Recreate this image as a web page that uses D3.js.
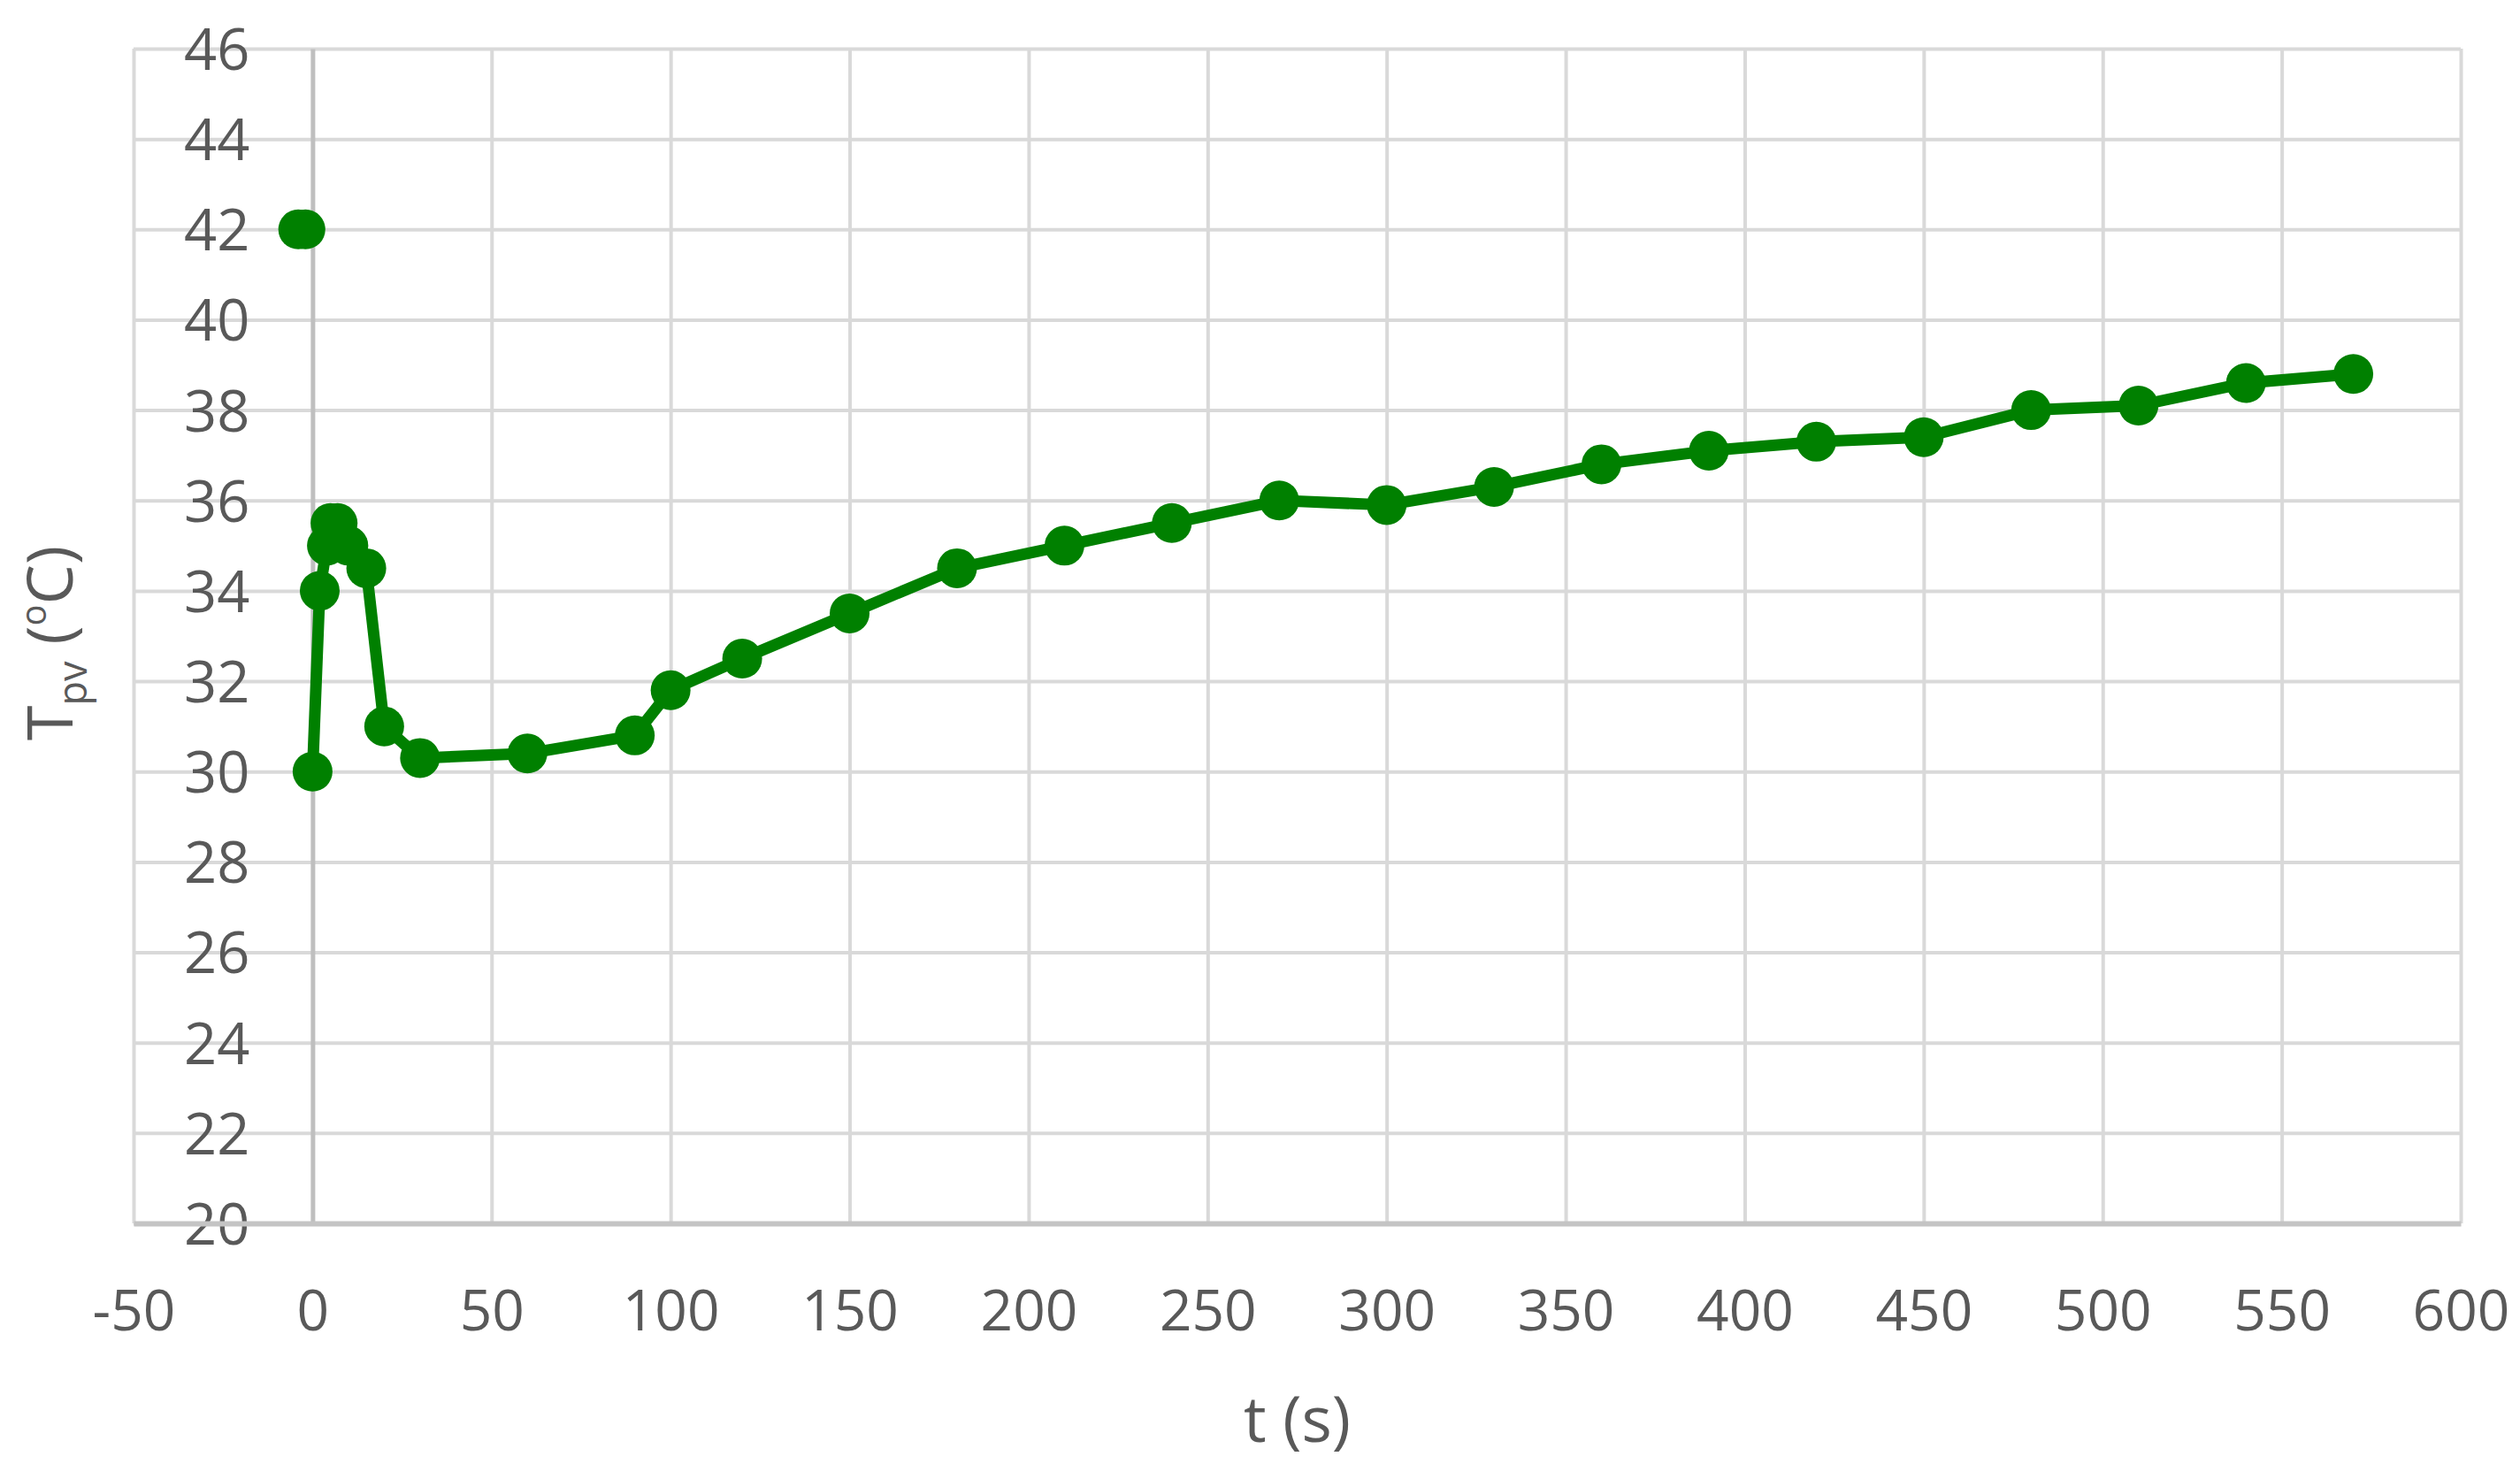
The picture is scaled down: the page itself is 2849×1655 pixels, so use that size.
<!DOCTYPE html>
<html>
<head>
<meta charset="utf-8">
<script src="https://cdn.jsdelivr.net/npm/d3@7"></script>
<style>
  body { margin: 0; background: #fff; }
  text { font-family: "Open Sans", sans-serif; fill: #595959; }
</style>
</head>
<body>
<div id="chart"></div>
<script>
// readings before the switch (separate short run)
var preT = [-4, -2];
var preTemp = [42, 42];

// main run: time (s) and panel temperature (oC)
var timeS = [0, 2, 4, 5, 7, 10, 15, 20, 30, 60, 90, 100, 120, 150, 180, 210, 240,
             270, 300, 330, 360, 390, 420, 450, 480, 510, 540, 570];
var tempC = [30, 34, 35, 35.5, 35.5, 35, 34.5, 31, 30.3, 30.4, 30.8, 31.8, 32.5, 33.5, 34.5, 35, 35.5,
             36, 35.9, 36.3, 36.8, 37.1, 37.3, 37.4, 38, 38.1, 38.6, 38.8];

var xTicks = [-50, 0, 50, 100, 150, 200, 250, 300, 350, 400, 450, 500, 550, 600];
var yTicks = [20, 22, 24, 26, 28, 30, 32, 34, 36, 38, 40, 42, 44, 46];

var width = 2849, height = 1655;
var plot = { left: 151, right: 2782, top: 55, bottom: 1383 };
var green = '#008000';

var svg = d3.select('#chart').append('svg')
              .attr('width', width)
              .attr('height', height);

var x = d3.scaleLinear().domain([-50, 600]).range([plot.left, plot.right]);
var y = d3.scaleLinear().domain([20, 46]).range([plot.bottom, plot.top]);

// plain hyphen for negatives, like the spreadsheet
var plain = function(d) { return String(d); };

// gridlines
svg.append('g')
   .attr('transform', 'translate(0,' + plot.bottom + ')')
   .call(d3.axisBottom(x).tickValues(xTicks).tickSize(-(plot.bottom - plot.top)).tickFormat(''))
   .call(function(g) {
     g.select('.domain').remove();
     g.selectAll('line').attr('stroke', '#d9d9d9').attr('stroke-width', 4);
   });

svg.append('g')
   .attr('transform', 'translate(' + plot.left + ',0)')
   .call(d3.axisLeft(y).tickValues(yTicks).tickSize(-(plot.right - plot.left)).tickFormat(''))
   .call(function(g) {
     g.select('.domain').remove();
     g.selectAll('line').attr('stroke', '#d9d9d9').attr('stroke-width', 4);
   });

// vertical axis crossing at t = 0
svg.append('g')
   .attr('transform', 'translate(' + x(0) + ',0)')
   .call(d3.axisLeft(y).tickValues(yTicks).tickSize(0).tickPadding(71).tickFormat(plain))
   .call(function(g) {
     g.select('.domain').attr('stroke', '#bfbfbf').attr('stroke-width', 5);
     g.selectAll('text')
      .style('font-size', '65px')
      .attr('dy', '0.36em')
      .attr('fill', '#595959');
   });

// horizontal axis
svg.append('g')
   .attr('transform', 'translate(0,' + plot.bottom + ')')
   .call(d3.axisBottom(x).tickValues(xTicks).tickSize(0).tickFormat(plain))
   .call(function(g) {
     g.select('.domain').attr('stroke', '#c4c4c4').attr('stroke-width', 6);
     g.selectAll('text')
      .style('font-size', '64px')
      .attr('y', 121)
      .attr('dy', null)
      .attr('fill', '#595959');
   });

// series
var line = d3.line()
             .x(function(d) { return x(d[0]); })
             .y(function(d) { return y(d[1]); });

var preData = d3.zip(preT, preTemp);
var mainData = d3.zip(timeS, tempC);

[preData, mainData].forEach(function(data) {
  svg.append('path')
     .datum(data)
     .attr('d', line)
     .attr('fill', 'none')
     .attr('stroke', green)
     .attr('stroke-width', 13)
     .attr('stroke-linejoin', 'round');

  svg.append('g').selectAll('circle')
     .data(data).enter()
     .append('circle')
     .attr('cx', function(d) { return x(d[0]); })
     .attr('cy', function(d) { return y(d[1]); })
     .attr('r', 22.5)
     .attr('fill', green);
});

// axis titles
svg.append('text')
   .attr('x', (plot.left + plot.right) / 2)
   .attr('y', 1630)
   .attr('text-anchor', 'middle')
   .style('font-size', '72px')
   .text('t (s)');

var yTitle = svg.append('text')
   .attr('transform', 'translate(82,727) rotate(-90)')
   .attr('text-anchor', 'middle')
   .style('font-size', '72px');
yTitle.append('tspan').text('T');
yTitle.append('tspan').attr('dy', 16).style('font-size', '45px').text('pv');
yTitle.append('tspan').attr('dy', -16).text(' (');
yTitle.append('tspan').attr('dy', -30).style('font-size', '40px').text('o');
yTitle.append('tspan').attr('dy', 30).text('C)');
</script>
</body>
</html>
